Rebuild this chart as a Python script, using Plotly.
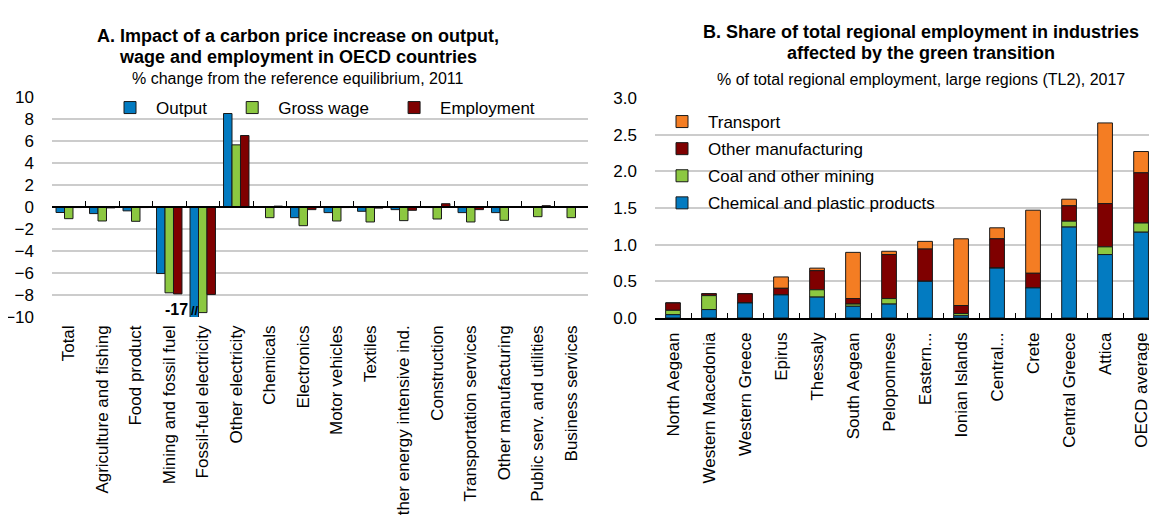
import plotly.graph_objects as go
import numpy as np

# ---------------- Panel A data ----------------
sectors = ["Total", "Agriculture and fishing", "Food product", "Mining and fossil fuel",
           "Fossil-fuel electricity", "Other electricity", "Chemicals", "Electronics",
           "Motor vehicles", "Textiles", "Other energy intensive ind.", "Construction",
           "Transportation services", "Other manufacturing", "Public serv. and utilities",
           "Business services"]
output = [-0.5, -0.6, -0.35, -6.05, -17.0, 8.5, -0.03, -0.97, -0.51, -0.39, -0.24, -0.05,
          -0.51, -0.51, -0.02, -0.02]
gross_wage = [-1.06, -1.27, -1.3, -7.8, -9.6, 5.65, -0.97, -1.7, -1.27, -1.36, -1.24, -1.09,
              -1.36, -1.21, -0.88, -0.97]
employment = [-0.05, -0.08, -0.05, -7.9, -7.95, 6.5, 0.08, -0.24, -0.05, -0.1, -0.3, 0.3,
              -0.24, -0.03, 0.12, 0.02]

# ---------------- Panel B data ----------------
regions = ["North Aegean", "Western Macedonia", "Western Greece", "Epirus", "Thessaly",
           "South Aegean", "Peloponnese", "Eastern...", "Ionian Islands", "Central...",
           "Crete", "Central Greece", "Attica", "OECD average"]
chemical = [0.045, 0.115, 0.205, 0.315, 0.285, 0.16, 0.19, 0.5, 0.03, 0.68, 0.41, 1.24, 0.865, 1.17]
coal = [0.06, 0.19, 0.0, 0.0, 0.1, 0.03, 0.075, 0.0, 0.03, 0.0, 0.0, 0.08, 0.105, 0.125]
other_manuf = [0.1, 0.025, 0.125, 0.09, 0.26, 0.075, 0.6, 0.44, 0.11, 0.4, 0.2, 0.21, 0.59, 0.685]
transport = [0.0, 0.0, 0.0, 0.155, 0.035, 0.63, 0.045, 0.105, 0.91, 0.15, 0.86, 0.09, 1.1, 0.29]

BLUE = "#037BC1"
GREEN = "#8CC841"
RED = "#7F0000"
ORANGE = "#F47D23"
GRID = "#CCCCCC"
FONT = "Liberation Sans, Arial, sans-serif"
NB = "\u00a0"

# page body has an 8px margin: figure is laid out in reference pixels minus 8
S = 8
W, H = 1157 - S, 516 - S


def px(x):
    return (x - S) / W


def py(y):
    return 1 - (y - S) / H


fig = go.Figure()

# Panel A grouped bars
for name, vals, col in [("Output" + NB * 3, output, BLUE),
                        ("Gross wage" + NB * 3, gross_wage, GREEN),
                        ("Employment", employment, RED)]:
    fig.add_trace(go.Bar(x=sectors, y=vals, name=name, marker_color=col,
                         marker_line_color="#1a1a1a", marker_line_width=1,
                         xaxis="x", yaxis="y", legend="legend"))

# helper invisible trace for the zero-line category axis
fig.add_trace(go.Scatter(x=sectors, y=[0] * len(sectors), mode="markers",
                         marker=dict(opacity=0), showlegend=False, hoverinfo="skip",
                         xaxis="x3", yaxis="y"))

# Panel B stacked bars (manual stacking with a common offset group)
stack = [("Chemical and plastic products", chemical, BLUE),
         ("Coal and other mining", coal, GREEN),
         ("Other manufacturing", other_manuf, RED),
         ("Transport", transport, ORANGE)]
bases = []
acc = np.zeros(len(regions))
for name, vals, col in stack:
    bases.append(acc.copy())
    acc = acc + np.array(vals)
for (name, vals, col), b in reversed(list(zip(stack, bases))):
    fig.add_trace(go.Bar(x=regions, y=vals, base=b, name=name, marker_color=col,
                         marker_line_color="#1a1a1a", marker_line_width=1,
                         width=0.41, offsetgroup="b", legendgroup=name,
                         xaxis="x2", yaxis="y2", legend="legend2"))

yA = [py(317), py(97)]
yB = [py(318), py(98)]
xA = [px(52), px(588)]
xB = [px(655), px(1149)]

fig.update_layout(
    width=W, height=H,
    margin=dict(l=0, r=0, t=0, b=0, autoexpand=False),
    paper_bgcolor="white", plot_bgcolor="white",
    font=dict(family=FONT, size=17, color="black"),
    barmode="group", bargap=0.24, bargroupgap=0,
    showlegend=True,
    xaxis=dict(domain=xA, anchor="y", type="category", range=[-0.5, 15.5],
               showline=False, ticks="", tickangle=-90, showgrid=False,
               automargin=False, ticklabelstandoff=4, tickfont=dict(size=17)),
    xaxis3=dict(domain=xA, overlaying="x", anchor="free",
                position=(yA[0] + yA[1]) / 2, type="category", range=[-0.5, 15.5],
                showline=True, linecolor="black", linewidth=1.5,
                ticks="inside", ticklen=5, tickwidth=1, tickcolor="black",
                tickson="boundaries", showticklabels=False, showgrid=False,
                automargin=False),
    yaxis=dict(domain=yA, anchor="x", range=[-10, 10], dtick=2,
               showgrid=True, gridcolor=GRID, gridwidth=1.5, zeroline=False,
               showline=False, ticks="", automargin=False, ticklabelstandoff=17,
               tickfont=dict(size=17)),
    xaxis2=dict(domain=xB, anchor="y2", type="category", range=[-0.5, 13.22],
                showline=True, linecolor="black", linewidth=1.5,
                ticks="inside", ticklen=5, tickwidth=1, tickcolor="black",
                tickson="boundaries", tickangle=-90, showgrid=False,
                automargin=False, ticklabelstandoff=6, tickfont=dict(size=17)),
    yaxis2=dict(domain=yB, anchor="x2", range=[0, 3], dtick=0.5, tickformat=".1f",
                showgrid=True, gridcolor=GRID, gridwidth=1.5, zeroline=False,
                showline=False, ticks="", automargin=False, ticklabelstandoff=17,
                tickfont=dict(size=17)),
    legend=dict(orientation="h", x=px(104), y=py(90), xanchor="left",
                yanchor="top", bgcolor="rgba(0,0,0,0)", font=dict(size=17),
                traceorder="normal", itemwidth=42),
    legend2=dict(orientation="v", x=px(656), y=py(104), xanchor="left",
                 yanchor="top", bgcolor="rgba(0,0,0,0)", font=dict(size=17),
                 traceorder="grouped", tracegroupgap=2, itemwidth=42),
)

ann = []
titleA_x = px(298)
titleB_x = px(921)


def title(text, x, y, size, bold=True):
    return dict(text=("<b>%s</b>" % text) if bold else text, x=x, y=py(y),
                xref="paper", yref="paper", xanchor="center", yanchor="middle",
                showarrow=False, font=dict(size=size))


ann.append(title("A. Impact of a carbon price increase on output,", titleA_x, 36, 18))
ann.append(title("wage and employment in OECD countries", titleA_x, 57, 18))
ann.append(title("% change from the reference equilibrium, 2011", titleA_x, 79, 16, False))
ann.append(title("B. Share of total regional employment in industries", titleB_x, 32, 18))
ann.append(title("affected by the green transition", titleB_x, 53, 18))
ann.append(title("% of total regional employment, large regions (TL2), 2017", titleB_x, 80, 16, False))
# truncated bar label and break mark
ann.append(dict(text="<b>-17</b>", x=sectors[4], y=-9.3, xref="x", yref="y",
                xanchor="right", yanchor="middle", xshift=-13, showarrow=False,
                font=dict(size=16)))
ann.append(dict(text="<b>//</b>", x=sectors[4], y=-9.4, xref="x", yref="y",
                xanchor="center", yanchor="middle", xshift=-8, showarrow=False,
                font=dict(size=13)))
fig.update_layout(annotations=ann)

fig.write_html("out.html")
